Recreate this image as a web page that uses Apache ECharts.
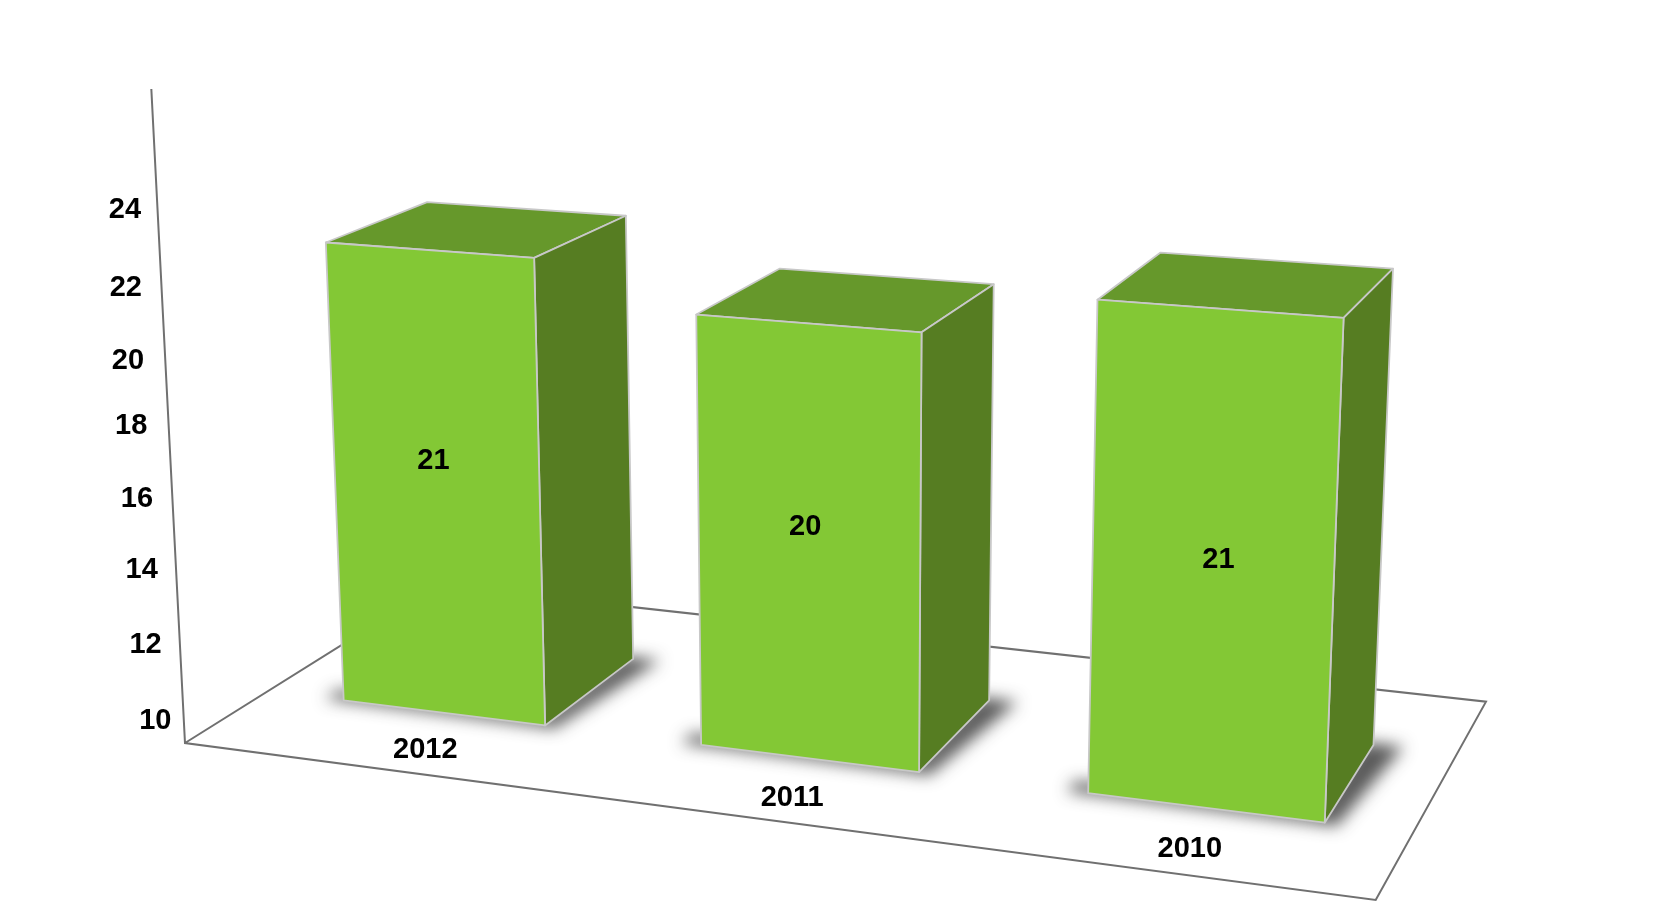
<!DOCTYPE html>
<html><head><meta charset="utf-8">
<style>html,body{margin:0;padding:0;background:#fff}#c{width:1664px;height:914px}</style>
<script src="https://cdn.jsdelivr.net/npm/echarts@6/dist/echarts.min.js"></script>
</head><body><div id="c"></div>
<script>
// ---- data ----
const categories = ['2012', '2011', '2010'];
const values = [21, 20, 21];
const tickValues = [10, 12, 14, 16, 18, 20, 22, 24];
const axisMin = 10, axisMax = 25;

// ---- perspective camera applied to the library's plot coordinates ----
const floorQuad = [[185, 743], [1375.7, 900], [1486, 701.7], [437, 585.4]];
const vanish = [847, 13600];
const muSpan = -0.0484, barBand = 0.573, barShift = 0.0025, barFront = 0.301, barDepth = 0.40;
const faceLabelAt = [0.552, 0.54, 0.506];
const faceLabelDx = [-2, -3, 6.5];
const tickLabelNudge = [[0.3, 2], [-5.2, -0.4], [-4.7, -2.4], [-5.2, -0.6], [-6.6, 0], [-5.6, 7.5], [-3.5, 8.2], [0, 3]];

const H = (function () {
  const [p0, p1, p2, p3] = floorQuad;
  const dx1 = p1[0] - p2[0], dx2 = p3[0] - p2[0], sx = p0[0] - p1[0] + p2[0] - p3[0];
  const dy1 = p1[1] - p2[1], dy2 = p3[1] - p2[1], sy = p0[1] - p1[1] + p2[1] - p3[1];
  const den = dx1 * dy2 - dx2 * dy1;
  const g = (sx * dy2 - dx2 * sy) / den, h = (dx1 * sy - sx * dy1) / den;
  return { a: p1[0] - p0[0] + g * p1[0], b: p3[0] - p0[0] + h * p3[0], c: p0[0],
           d: p1[1] - p0[1] + g * p1[1], e: p3[1] - p0[1] + h * p3[1], f: p0[1], g, h };
})();
function project(X, Z, frac) {
  const w = 1 + H.g * X + H.h * Z;
  const x0 = (H.a * X + H.b * Z + H.c) / w, y0 = (H.d * X + H.e * Z + H.f) / w;
  const t = muSpan * frac / w;
  return [(x0 + t * vanish[0]) / (1 + t), (y0 + t * vanish[1]) / (1 + t)];
}

const FRONT = '#83C835', TOP = '#66982B', SIDE = '#567D22', EDGE = '#C8C8C8', AXIS = '#707070';
const FONT = 'bold 29px "Liberation Sans", Arial, sans-serif';

function poly(points, fill) {
  return { type: 'polygon', shape: { points }, style: { fill, stroke: EDGE, lineWidth: 1.8, lineJoin: 'round' } };
}
function renderFloor(params, api) {
  const cs = params.coordSys;
  const frac = (cs.y + cs.height - api.coord([0, axisMax])[1]) / cs.height;
  const line = pts => ({ type: 'polyline', shape: { points: pts }, style: { fill: null, stroke: AXIS, lineWidth: 2 } });
  return { type: 'group', children: [
    line([project(0, 0, frac), project(0, 0, 0), project(1, 0, 0), project(1, 1, 0), project(0, 1, 0), project(0, 0, 0)])
  ] };
}
function renderBar(params, api) {
  const cs = params.coordSys;
  const i = api.value(0), v = api.value(1);
  const c = api.coord([i, v]);
  const half = api.size([1, 0])[0] * barBand / 2;
  const M = (c[0] - cs.x) / cs.width + barShift;
  const L = M - half / cs.width, R = M + half / cs.width;
  const frac = (cs.y + cs.height - c[1]) / cs.height;
  const F = barFront, B = F + barDepth;
  const shadowPts = [[L - 0.017, F + 0.05], [L - 0.017, F - 0.003], [R + 0.01, F - 0.008], [R + 0.024, B + 0.01], [R - 0.01, B + 0.01], [R - 0.01, F + 0.05]]
    .map(p => { const q = project(p[0], p[1], 0); return [q[0] - 4000, q[1]]; });
  const lab = project(M, F, frac * faceLabelAt[i]);
  return { type: 'group', children: [
    { type: 'polygon', shape: { points: shadowPts }, style: { fill: '#333', shadowColor: 'rgba(60,60,60,0.85)', shadowBlur: 16, shadowOffsetX: 4000 } },
    poly([project(L, F, frac), project(R, F, frac), project(R, B, frac), project(L, B, frac)], TOP),
    poly([project(R, F, 0), project(R, B, 0), project(R, B, frac), project(R, F, frac)], SIDE),
    poly([project(L, F, 0), project(R, F, 0), project(R, F, frac), project(L, F, frac)], FRONT),
    { type: 'text', style: { text: String(v), x: lab[0] + faceLabelDx[i], y: lab[1], fill: '#000', font: FONT, align: 'center', verticalAlign: 'middle' } }
  ] };
}
function renderCategory(params, api) {
  const cs = params.coordSys;
  const E = (api.coord([api.value(0), axisMin])[0] - cs.x) / cs.width;
  const p = project(0.52 + 0.976 * (E - 0.5), 0.12, 0);
  return { type: 'text', style: { text: categories[api.value(0)], x: p[0], y: p[1] + 2, fill: '#000', font: FONT, align: 'center', verticalAlign: 'middle' } };
}
function renderTick(params, api) {
  const y = api.coord([0, api.value(1)])[1];
  const base = api.coord([0, tickValues[0]])[1];
  const n = tickLabelNudge[params.dataIndex];
  return { type: 'text', style: { text: String(api.value(1)), x: 155 - (base - y) * 0.0587 + n[0], y: y + n[1], fill: '#000', font: FONT, align: 'center', verticalAlign: 'middle' } };
}

const chart = echarts.init(document.getElementById('c'), null, { renderer: 'canvas' });
chart.setOption({
  animation: false,
  backgroundColor: '#fff',
  grid: [
    { left: 100, top: 100, width: 1200, height: 640 },
    { left: 100, top: 207, width: 100, height: 511.5 }
  ],
  xAxis: [
    { gridIndex: 0, type: 'category', data: categories, show: false },
    { gridIndex: 1, type: 'category', data: ['t'], show: false }
  ],
  yAxis: [
    { gridIndex: 0, type: 'value', min: axisMin, max: axisMax, show: false },
    { gridIndex: 1, type: 'value', min: 10, max: 24, interval: 2, show: false }
  ],
  series: [
    { type: 'custom', xAxisIndex: 0, yAxisIndex: 0, z: 1, renderItem: renderFloor, data: [[0, axisMax]], silent: true },
    { type: 'custom', xAxisIndex: 0, yAxisIndex: 0, z: 2, renderItem: renderBar, data: categories.map((c, i) => [i, values[i]]), silent: true },
    { type: 'custom', xAxisIndex: 0, yAxisIndex: 0, z: 3, renderItem: renderCategory, data: categories.map((c, i) => [i, axisMin]), silent: true },
    { type: 'custom', xAxisIndex: 1, yAxisIndex: 1, z: 3, renderItem: renderTick, data: tickValues.map(v => [0, v]), silent: true }
  ]
});
</script></body></html>
